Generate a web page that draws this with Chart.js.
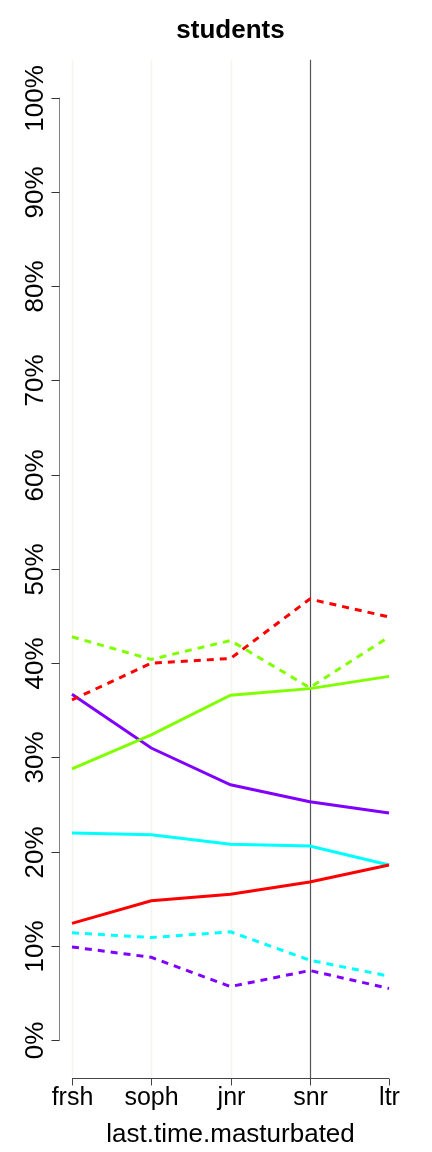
<!DOCTYPE html>
<html>
<head>
<meta charset="utf-8">
<script src="https://cdn.jsdelivr.net/npm/chart.js@4.4.0/dist/chart.umd.min.js"></script>
<style>
  html, body { margin: 0; padding: 0; background: #fff; }
  canvas { display: block; }
</style>
</head>
<body>
<canvas id="chart" width="432" height="1152"></canvas>
<script>
// categories along the bottom
const categories = ["frsh", "soph", "jnr", "snr", "ltr"];
const yTicks = [0, 10, 20, 30, 40, 50, 60, 70, 80, 90, 100];

// percentages
const redSolid     = [12.4, 14.8, 15.5, 16.8, 18.6];
const redDashed    = [36.1, 40.0, 40.5, 46.8, 44.9];
const greenSolid   = [28.8, 32.4, 36.6, 37.3, 38.6];
const greenDashed  = [42.8, 40.4, 42.4, 37.4, 42.8];
const cyanSolid    = [22.0, 21.8, 20.8, 20.6, 18.6];
const cyanDashed   = [11.4, 10.9, 11.5, 8.5, 6.8];
const purpleSolid  = [36.7, 31.0, 27.1, 25.3, 24.1];
const purpleDashed = [9.9, 8.8, 5.7, 7.4, 5.5];

const FONT = "'Liberation Sans', Arial, Helvetica, sans-serif";

function toPoints(vals) {
  return vals.map((v, i) => ({ x: i, y: v }));
}

function series(vals, color, dashed) {
  return {
    data: toPoints(vals),
    borderColor: color,
    borderWidth: 3,
    borderDash: dashed ? [7, 6] : [],
    pointRadius: 0,
    tension: 0,
    fill: false
  };
}

// R-style axes, grid lines and labels drawn from the chart's scales
const rAxes = {
  id: "rAxes",
  beforeDatasetsDraw(chart) {
    const ctx = chart.ctx;
    const x = chart.scales.x;
    const area = chart.chartArea;
    ctx.save();
    categories.forEach((c, i) => {
      if (i === 4) return;
      const px = Math.round(x.getPixelForValue(i)) + 0.5;
      ctx.beginPath();
      if (i === 3) {
        ctx.strokeStyle = "#555555";
        ctx.lineWidth = 1.2;
      } else {
        ctx.strokeStyle = "#f6f5ec";
        ctx.lineWidth = 1.6;
      }
      ctx.moveTo(px, area.top);
      ctx.lineTo(px, area.bottom);
      ctx.stroke();
    });
    ctx.restore();
  },
  afterDraw(chart) {
    const ctx = chart.ctx;
    const x = chart.scales.x;
    const y = chart.scales.y;
    const area = chart.chartArea;
    ctx.save();
    ctx.strokeStyle = "#808080";
    ctx.lineWidth = 1;
    ctx.fillStyle = "#000";

    // y axis
    const ax = Math.round(area.left) + 0.5;
    ctx.beginPath();
    ctx.moveTo(ax, y.getPixelForValue(0));
    ctx.lineTo(ax, y.getPixelForValue(100));
    ctx.stroke();
    ctx.font = "26px " + FONT;
    ctx.textAlign = "center";
    ctx.textBaseline = "alphabetic";
    yTicks.forEach(t => {
      const py = Math.round(y.getPixelForValue(t)) + 0.5;
      ctx.strokeStyle = "#333";
      ctx.beginPath();
      ctx.moveTo(ax - 8, py);
      ctx.lineTo(ax, py);
      ctx.stroke();
      ctx.save();
      ctx.translate(43, py);
      ctx.rotate(-Math.PI / 2);
      ctx.fillText(t + "%", 0, 0);
      ctx.restore();
    });

    // x axis
    const ay = Math.round(area.bottom) + 0.5;
    ctx.strokeStyle = "#444";
    ctx.beginPath();
    ctx.moveTo(x.getPixelForValue(0), ay);
    ctx.lineTo(x.getPixelForValue(categories.length - 1), ay);
    ctx.stroke();
    ctx.font = "25px " + FONT;
    categories.forEach((c, i) => {
      const px = Math.round(x.getPixelForValue(i)) + 0.5;
      ctx.beginPath();
      ctx.moveTo(px, ay);
      ctx.lineTo(px, ay + 7);
      ctx.stroke();
      ctx.fillText(c, px, 1105);
    });

    ctx.font = "26px " + FONT;
    ctx.fillText("last.time.masturbated", (area.left + area.right) / 2, 1142);
    ctx.restore();
  }
};

new Chart(document.getElementById("chart"), {
  type: "line",
  data: {
    datasets: [
      series(redDashed, "#FF0000", true),
      series(greenDashed, "#80FF00", true),
      series(cyanDashed, "#00FFFF", true),
      series(purpleDashed, "#8000FF", true),
      series(redSolid, "#FF0000", false),
      series(greenSolid, "#80FF00", false),
      series(cyanSolid, "#00FFFF", false),
      series(purpleSolid, "#8000FF", false)
    ]
  },
  options: {
    responsive: false,
    animation: false,
    devicePixelRatio: 1,
    layout: { padding: { left: 59.3, right: 30.3, top: 0, bottom: 74 } },
    scales: {
      x: { type: "linear", display: false, min: -0.16, max: 4.16 },
      y: { type: "linear", display: false, min: -4, max: 104 }
    },
    plugins: {
      legend: { display: false },
      tooltip: { enabled: false },
      title: {
        display: true,
        text: "students",
        color: "#000",
        font: { family: FONT, size: 26, weight: "bold" },
        padding: { top: 15, bottom: 13.6 }
      }
    }
  },
  plugins: [rAxes]
});
</script>
</body>
</html>
